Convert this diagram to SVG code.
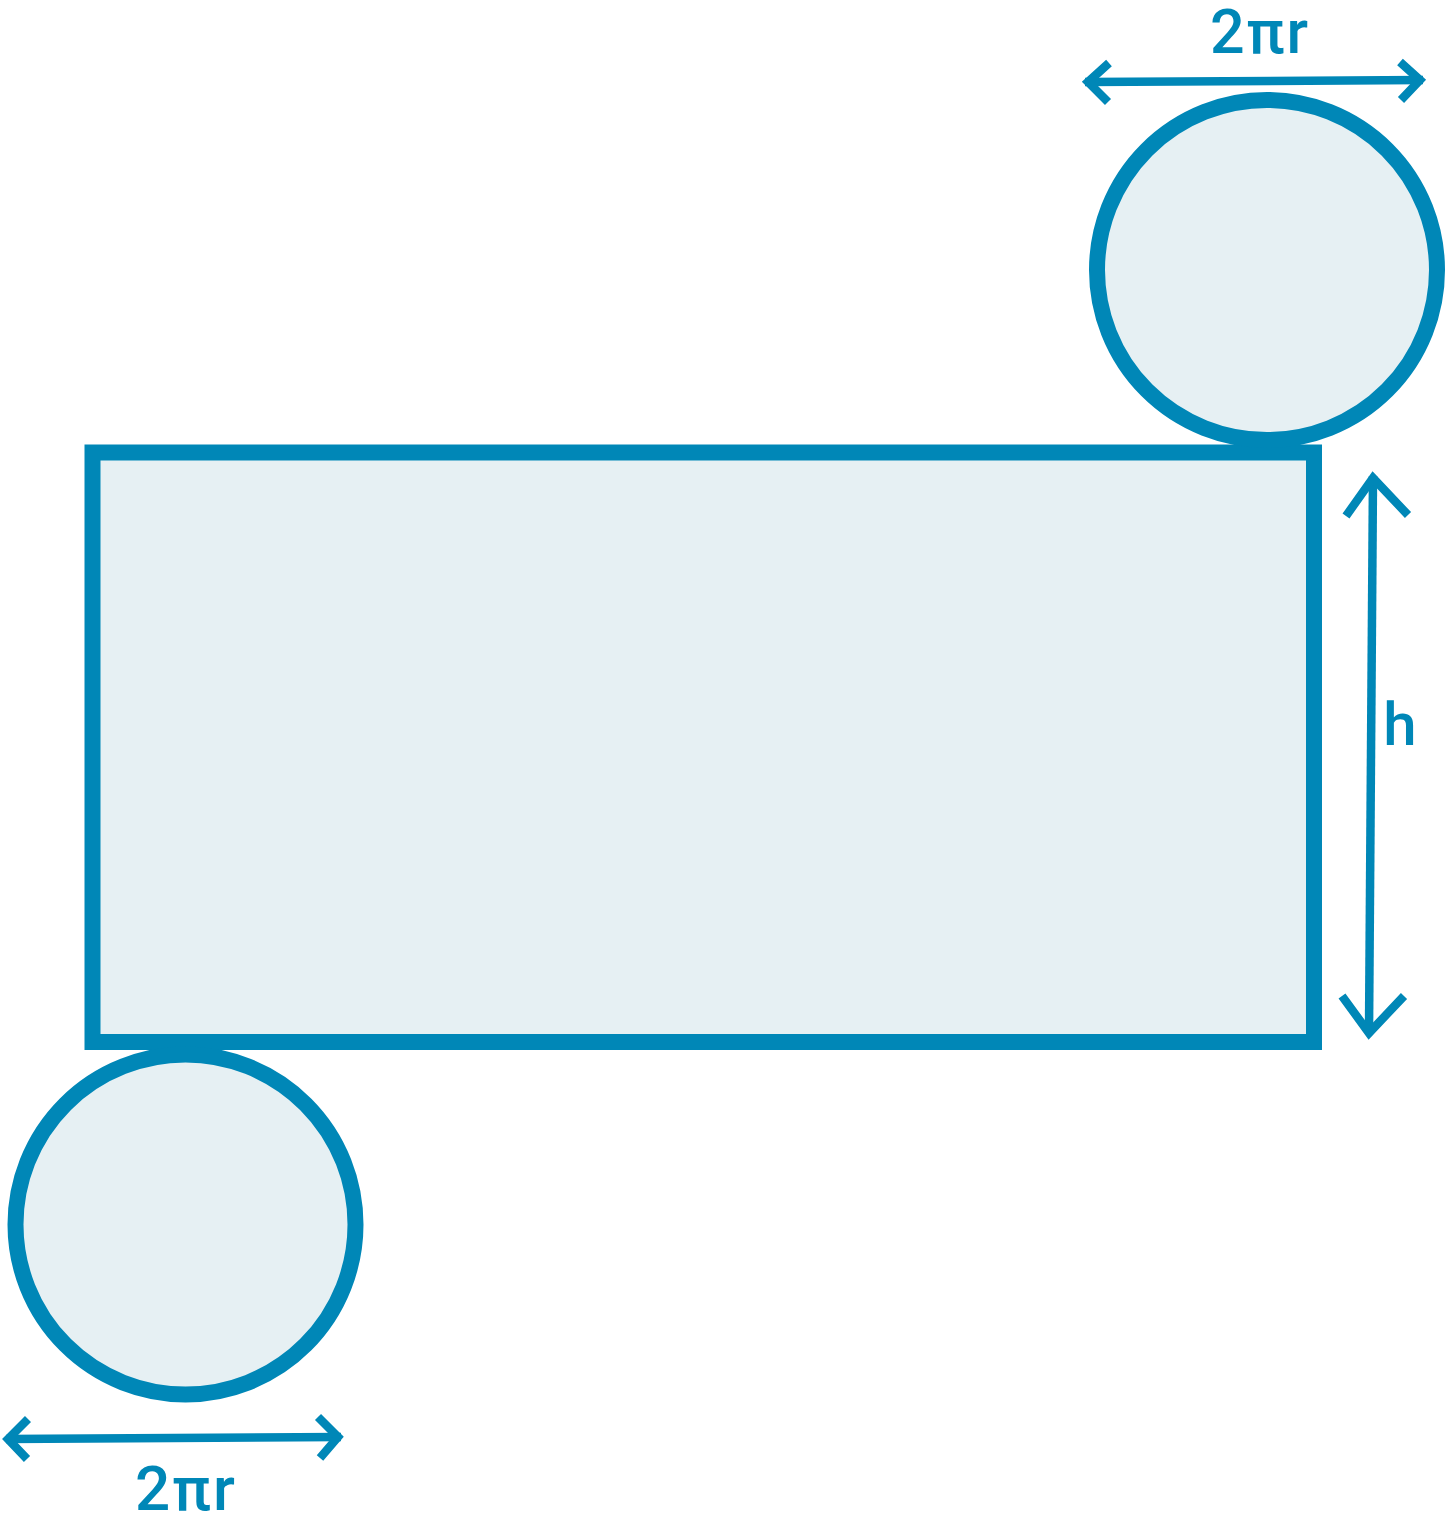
<svg xmlns="http://www.w3.org/2000/svg" width="1446" height="1525" viewBox="0 0 1446 1525">
<style>
.shape{fill:#E6F0F3;stroke:#0087B7;stroke-width:16}
.arrow{fill:none;stroke:#0087B7;stroke-width:8.5;stroke-linecap:butt;stroke-linejoin:miter}
.lbl{font-family:Roboto,"Liberation Sans",Arial,sans-serif;font-weight:500;fill:#0087B7;text-anchor:middle}
</style>
<rect width="1446" height="1525" fill="#FFFFFF"/>
<g id="net-rect"><rect class="shape" x="92.5" y="452.5" width="1221.5" height="589.5"/></g>
<g id="top-circle"><circle class="shape" cx="1267" cy="270" r="170"/></g>
<g id="bottom-circle"><circle class="shape" cx="185.5" cy="1224.5" r="170"/></g>
<g id="connectors">
<path class="arrow" d="M1085,82 L1423,80"/>
<path class="arrow" d="M1109,63 L1088,82 L1108,102"/>
<path class="arrow" d="M1400,62 L1420,80 L1401,100"/>
<path class="arrow" d="M1373,476 L1369,1032"/>
<path class="arrow" d="M1346,516 L1373,478 L1408,515"/>
<path class="arrow" d="M1342,996 L1369,1033 L1404,996"/>
<path class="arrow" d="M6,1439 L341,1437"/>
<path class="arrow" d="M28,1419 L8,1439 L27,1459"/>
<path class="arrow" d="M318,1417 L338,1437 L320,1458"/>
</g>
<g id="labels">
<text class="lbl" x="1260" y="53" font-size="61" letter-spacing="2">2πr</text>
<text class="lbl" x="186" y="1510" font-size="62" letter-spacing="2">2πr</text>
<text class="lbl" x="1400" y="745" font-size="60">h</text>
</g>
</svg>
